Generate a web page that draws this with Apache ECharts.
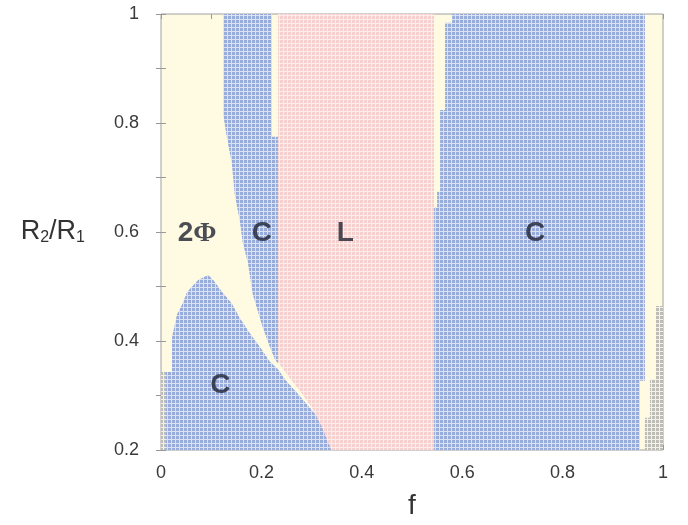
<!DOCTYPE html>
<html>
<head>
<meta charset="utf-8">
<script src="https://cdn.jsdelivr.net/npm/echarts@6/dist/echarts.min.js"></script>
<style>
  html, body { margin: 0; padding: 0; background: #fff; }
  #chart { width: 688px; height: 525px; }
</style>
</head>
<body>
<div id="chart"></div>
<script>
// phase boundaries, [f, R2/R1]
const stripC = [[0.124, 1.0], [0.221, 1.0], [0.221, 0.775], [0.233, 0.775], [0.233, 0.359],
  [0.227, 0.366], [0.217, 0.389], [0.203, 0.424], [0.183, 0.485], [0.173, 0.544],
  [0.163, 0.580], [0.157, 0.620], [0.147, 0.669], [0.141, 0.726], [0.131, 0.775], [0.124, 0.815]];
const domeC = [[0, 0.2], [0, 0.343], [0.022, 0.343], [0.022, 0.407], [0.032, 0.449],
  [0.042, 0.467], [0.052, 0.490], [0.074, 0.512], [0.094, 0.521], [0.104, 0.512],
  [0.122, 0.490], [0.141, 0.469], [0.157, 0.442], [0.177, 0.414], [0.201, 0.384],
  [0.217, 0.362], [0.233, 0.348], [0.249, 0.327], [0.269, 0.307], [0.297, 0.277], [0.367, 0.2]];
const lamellarL = [[0.233, 1.0], [0.544, 1.0], [0.544, 0.2], [0.339, 0.2], [0.321, 0.241],
  [0.301, 0.277], [0.281, 0.303], [0.261, 0.327], [0.245, 0.346], [0.233, 0.362]];
const rightC = [[0.580, 1.0], [0.964, 1.0], [0.964, 0.327], [0.954, 0.327], [0.954, 0.2],
  [0.544, 0.2], [0.544, 0.645], [0.550, 0.645], [0.550, 0.674], [0.556, 0.674],
  [0.556, 0.824], [0.566, 0.824], [0.566, 0.984], [0.580, 0.984]];
const grayLeft = [[0, 0.2], [0.010, 0.2], [0.010, 0.343], [0, 0.343]];
const grayRight = [[0.986, 0.464], [1.0, 0.464], [1.0, 0.2], [0.964, 0.2], [0.964, 0.259],
  [0.974, 0.259], [0.974, 0.330], [0.986, 0.330]];

const phaseNames = ['2Φ', 'C', 'L', 'C', 'C'];
const phaseF = [0.072, 0.201, 0.367, 0.745, 0.118];
const phaseR = [0.597, 0.597, 0.597, 0.597, 0.318];

function dots(bg, fg) {
  const c = document.createElement('canvas');
  c.width = 4; c.height = 4;
  const g = c.getContext('2d');
  g.fillStyle = bg; g.fillRect(0, 0, 4, 4);
  g.fillStyle = fg; g.fillRect(0, 0, 3, 3);
  return { image: c, repeat: 'repeat' };
}
const blueFill = dots('#d9e1f2', '#98acdc');
const pinkFill = dots('#fcecea', '#f6cfcf');
const grayFill = dots('#f3f2ea', '#bdbdb6');

function region(poly, fill) {
  return {
    type: 'custom',
    coordinateSystem: 'cartesian2d',
    data: [[0, 0]],
    silent: true,
    renderItem: (params, api) => ({
      type: 'polygon',
      shape: { points: poly.map(p => api.coord(p)) },
      style: { fill: fill }
    })
  };
}

const tickFmt = v => {
  const t = Math.round(v * 10);
  return t % 2 === 0 ? String(t / 10) : '';
};
const labelFont = { fontFamily: 'Liberation Sans', fontSize: 18, color: '#3a3a3a' };
const tick = { inside: true, length: 5, lineStyle: { color: '#999' } };

const chart = echarts.init(document.getElementById('chart'));
chart.setOption({
  animation: false,
  grid: { left: 161, top: 14, right: 25, bottom: 62, show: true,
    backgroundColor: '#fffbe3', borderColor: '#a0a0a0', borderWidth: 1 },
  xAxis: [
    { type: 'value', min: 0, max: 1, interval: 0.1,
      name: 'f', nameLocation: 'middle', nameGap: 42,
      nameTextStyle: { fontFamily: 'Liberation Sans', fontSize: 28, color: '#333' },
      axisLine: { show: false }, splitLine: { show: false }, axisTick: tick,
      axisLabel: Object.assign({ formatter: tickFmt, margin: 14 }, labelFont) },
    { type: 'value', min: 0, max: 1, interval: 0.1, position: 'top',
      axisLine: { show: false }, splitLine: { show: false }, axisLabel: { show: false },
      axisTick: tick }
  ],
  yAxis: [
    { type: 'value', min: 0.2, max: 1, interval: 0.1,
      name: '{r|R}{s|2}{r|/R}{s|1}', nameLocation: 'middle', nameRotate: 0, nameGap: 76,
      nameTextStyle: { align: 'right', rich: {
        r: { fontFamily: 'Liberation Sans', fontSize: 27, color: '#333' },
        s: { fontFamily: 'Liberation Sans', fontSize: 16, color: '#333', padding: [12, 0, 0, 0] } } },
      axisLine: { show: false }, splitLine: { show: false }, axisTick: tick,
      axisLabel: Object.assign({ formatter: tickFmt, margin: 22 }, labelFont) },
    { type: 'value', min: 0.2, max: 1, interval: 0.1, position: 'right',
      axisLine: { show: false }, splitLine: { show: false }, axisLabel: { show: false },
      axisTick: tick }
  ],
  series: [
    region(domeC, blueFill),
    region(stripC, blueFill),
    region(lamellarL, pinkFill),
    region(rightC, blueFill),
    region(grayLeft, grayFill),
    region(grayRight, grayFill),
    {
      type: 'scatter',
      symbolSize: 0,
      silent: true,
      data: phaseNames.map((n, i) => ({ value: [phaseF[i], phaseR[i]], name: n })),
      label: {
        show: true, position: 'inside',
        formatter: p => p.name === '2Φ' ? '{a|2}{b|Φ}' : p.name,
        fontFamily: 'Liberation Sans', fontWeight: 'bold', fontSize: 28, color: '#1e2230',
        rich: {
          a: { fontFamily: 'Liberation Sans', fontWeight: 'bold', fontSize: 28, color: '#1e2230' },
          b: { fontFamily: 'Liberation Serif', fontWeight: 'bold', fontSize: 28, color: '#1e2230' }
        }
      }
    }
  ]
});
</script>
</body>
</html>
